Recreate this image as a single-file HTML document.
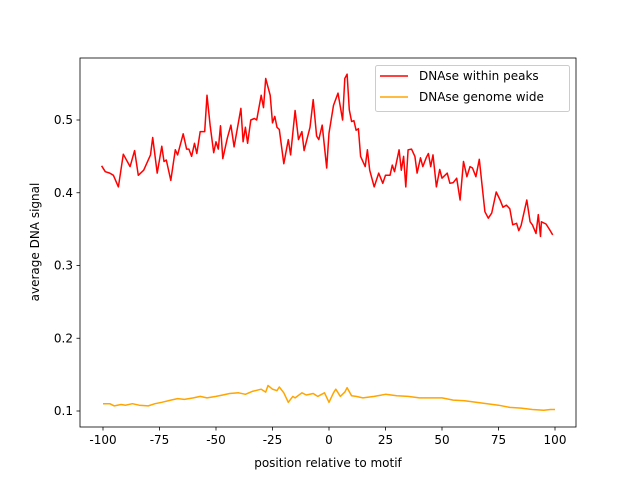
<!DOCTYPE html>
<html><head><meta charset="utf-8"><style>
body{margin:0;background:#fff;font-family:"Liberation Sans",sans-serif;}
svg text{font-family:"DejaVu Sans","Liberation Sans",sans-serif;font-size:12px;fill:#000;}
</style></head><body>
<svg id="chart" width="640" height="480" xmlns="http://www.w3.org/2000/svg"></svg>
<script>
const redX=[-100.6,-99,-97,-95.4,-93.2,-91,-88,-86,-84.4,-82,-79,-78,-76,-74,-73,-72,-70,-68,-67,-64.5,-63,-62,-60.8,-59.5,-58.5,-57,-55,-54,-52.6,-51,-50,-49,-48,-47,-45,-43.4,-42,-39,-38,-37,-36,-34.6,-33,-32,-30,-29,-28,-26,-25,-24,-23,-22,-20,-18,-17,-15,-13.5,-12,-11,-8.4,-7,-5.5,-4.5,-3,-1,0,2,4,6,7,8,9,10,11,12,13,14,16,17,18,20,22,23.8,25,27,28,29,31,32,33,34,35,36.5,38,39,40.5,41.5,43,44,45,46,47.5,49,50,52.3,53.5,55,56.5,58,59.5,61,62.4,63.5,65,66.5,69,70.5,72,74,75.7,77,78.5,80,81.3,83,84,85,87.5,89,90,91.6,92.6,93.6,94,96,97.5,99];
const redY=[0.437,0.429,0.427,0.424,0.408,0.453,0.436,0.458,0.424,0.431,0.452,0.476,0.427,0.464,0.443,0.445,0.417,0.459,0.452,0.481,0.46,0.46,0.45,0.468,0.454,0.484,0.484,0.534,0.493,0.455,0.47,0.46,0.492,0.447,0.475,0.493,0.463,0.516,0.47,0.49,0.468,0.5,0.502,0.5,0.534,0.517,0.557,0.534,0.496,0.505,0.49,0.487,0.44,0.473,0.452,0.513,0.473,0.484,0.458,0.49,0.528,0.478,0.473,0.493,0.434,0.482,0.52,0.537,0.5,0.557,0.563,0.514,0.498,0.499,0.486,0.488,0.45,0.436,0.459,0.431,0.408,0.427,0.413,0.424,0.424,0.438,0.429,0.459,0.431,0.45,0.408,0.459,0.46,0.45,0.427,0.448,0.436,0.448,0.454,0.436,0.452,0.408,0.432,0.42,0.427,0.413,0.414,0.42,0.39,0.443,0.422,0.436,0.434,0.422,0.446,0.374,0.365,0.372,0.401,0.39,0.38,0.383,0.378,0.356,0.358,0.348,0.355,0.39,0.36,0.356,0.344,0.37,0.34,0.36,0.357,0.35,0.342];
const orangeX=[-100,-97,-95,-92,-90,-87,-84,-80,-77,-74,-70,-67,-64,-60,-57,-54,-50,-47,-44,-40,-37,-34,-30,-28,-27,-25,-23,-22,-20,-18,-16,-15,-12,-10,-7,-5,-2,0,2,3,5,7,8,10,12,15,20,25,30,35,40,45,50,55,60,65,70,75,80,85,90,95,98,100];
const orangeY=[0.11,0.11,0.107,0.109,0.108,0.11,0.108,0.107,0.11,0.112,0.115,0.117,0.116,0.118,0.12,0.118,0.12,0.122,0.124,0.125,0.123,0.127,0.13,0.126,0.135,0.13,0.128,0.133,0.125,0.112,0.12,0.118,0.125,0.122,0.124,0.12,0.125,0.112,0.125,0.13,0.12,0.126,0.132,0.121,0.12,0.118,0.12,0.123,0.121,0.12,0.118,0.118,0.118,0.115,0.114,0.112,0.11,0.108,0.105,0.104,0.102,0.101,0.102,0.102];
const xTicks=[-100,-75,-50,-25,0,25,50,75,100];
const yTicks=[0.1,0.2,0.3,0.4,0.5];
const NS="http://www.w3.org/2000/svg";
const svg=document.getElementById('chart');
const L=80,R=576,T=58,B=427;
function sx(v){return 329+v*2.26;}
function sy(v){return 411-(v-0.1)*727.5;}
function mk(tag,attrs,parent){const e=document.createElementNS(NS,tag);for(const k in attrs)e.setAttribute(k,attrs[k]);(parent||svg).appendChild(e);return e;}
function line(xs,ys,color,name){
  const p=mk('polyline',{points:xs.map((x,i)=>sx(x).toFixed(1)+','+sy(ys[i]).toFixed(1)).join(' '),fill:'none',stroke:color,'stroke-width':1.5,'stroke-linejoin':'round'});
  
  
}
line(orangeX,orangeY,'#ffa500','genome-wide-line');
line(redX,redY,'#ff0000','within-peaks-line');
const frame=mk('rect',{x:L,y:T,width:R-L,height:B-T,fill:'none',stroke:'#000','stroke-width':0.8});


xTicks.forEach(v=>{
  mk('line',{x1:sx(v),x2:sx(v),y1:B,y2:B+3.5,stroke:'#000','stroke-width':0.8});
  const t=mk('text',{x:sx(v),y:B+17,'text-anchor':'middle'});t.textContent=v;
  
  
});
yTicks.forEach(v=>{
  mk('line',{x1:L-3.5,x2:L,y1:sy(v),y2:sy(v),stroke:'#000','stroke-width':0.8});
  const t=mk('text',{x:L-7,y:sy(v)+4,'text-anchor':'end'});t.textContent=v.toFixed(1);
  
  
});
const xt=mk('text',{x:328,y:467,'text-anchor':'middle'});xt.textContent='position relative to motif';


const yt=mk('text',{x:0,y:0,'text-anchor':'middle',transform:'translate(39,242) rotate(-90)'});yt.textContent='average DNA signal';


const lg=mk('g',{});


mk('rect',{x:375.5,y:65.5,width:194,height:46,rx:2,fill:'#fff','fill-opacity':0.8,stroke:'#ccc'},lg);
mk('line',{x1:380,x2:408,y1:76,y2:76,stroke:'#ff0000','stroke-width':1.5},lg);
mk('line',{x1:380,x2:408,y1:97,y2:97,stroke:'#ffa500','stroke-width':1.5},lg);
const l1=mk('text',{x:419,y:80},lg);l1.textContent='DNAse within peaks';


const l2=mk('text',{x:419,y:101},lg);l2.textContent='DNAse genome wide';


</script>
</body></html>
